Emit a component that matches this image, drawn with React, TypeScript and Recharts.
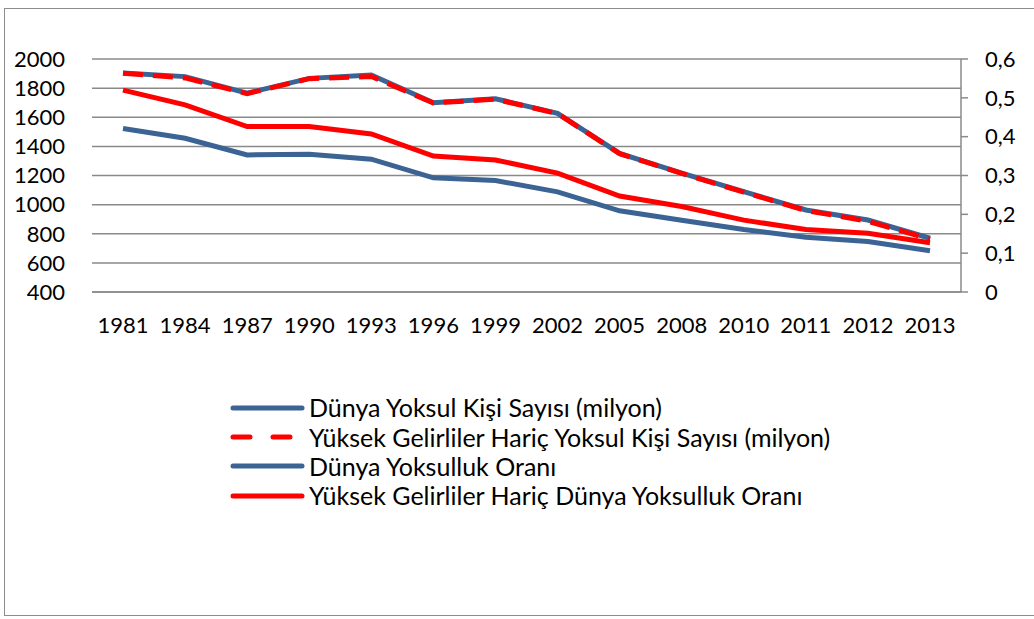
import { LineChart, Line, XAxis, YAxis, CartesianGrid, Legend } from 'recharts';

const years = ['1981', '1984', '1987', '1990', '1993', '1996', '1999', '2002', '2005', '2008', '2010', '2011', '2012', '2013'];
const poorWorld = [1904, 1879, 1766, 1867, 1890, 1700, 1727, 1627, 1352, 1217, 1089, 963, 894, 769];
const poorExHigh = [1902, 1870, 1762, 1865, 1880, 1698, 1724, 1625, 1350, 1214, 1086, 960, 886, 762];
const rateWorld = [0.421, 0.396, 0.353, 0.355, 0.342, 0.294, 0.287, 0.258, 0.209, 0.185, 0.161, 0.141, 0.13, 0.106];
const rateExHigh = [0.52, 0.482, 0.426, 0.426, 0.407, 0.35, 0.34, 0.306, 0.247, 0.22, 0.185, 0.161, 0.151, 0.127];

const leftTicks = [400, 600, 800, 1000, 1200, 1400, 1600, 1800, 2000];
const rightTicks = [0, 0.1, 0.2, 0.3, 0.4, 0.5, 0.6];

const BLUE = '#3B6394';
const RED = '#FF0000';
const GRID = '#8A8A8A';
const FONT = 'Lato, "Open Sans", sans-serif';

const SERIES = [
  { key: 'poorWorld', name: 'Dünya Yoksul Kişi Sayısı (milyon)', color: BLUE, axis: 'left', dash: undefined },
  { key: 'poorExHigh', name: 'Yüksek Gelirliler Hariç Yoksul Kişi Sayısı (milyon)', color: RED, axis: 'left', dash: '20 10' },
  { key: 'rateWorld', name: 'Dünya Yoksulluk Oranı', color: BLUE, axis: 'right', dash: undefined },
  { key: 'rateExHigh', name: 'Yüksek Gelirliler Hariç Dünya Yoksulluk Oranı', color: RED, axis: 'right', dash: undefined },
];

const data = years.map((y, i) => ({
  year: y,
  poorWorld: poorWorld[i],
  poorExHigh: poorExHigh[i],
  rateWorld: rateWorld[i],
  rateExHigh: rateExHigh[i],
}));

const fmtRate = (v: number) => (v === 0 ? '0' : v.toFixed(1).replace('.', ','));

// legend keeps the series order (recharts would sort it by name)
function renderLegend(props: any) {
  const items = props.payload || [];
  return (
    <div style={{ fontFamily: FONT, fontSize: 25, color: '#000', lineHeight: 1 }}>
      {SERIES.map(s => {
        const entry = items.find((e: any) => e.dataKey === s.key);
        if (!entry) return null;
        return (
          <div key={s.key} style={{ display: 'flex', alignItems: 'center', height: 29.4, whiteSpace: 'nowrap' }}>
            <svg width={75} height={10} style={{ display: 'block' }}>
              <line
                x1={3}
                y1={5}
                x2={72}
                y2={5}
                stroke={entry.color}
                strokeWidth={5}
                strokeLinecap="round"
                strokeDasharray={s.dash ? '17 23' : undefined}
              />
            </svg>
            <span style={{ marginLeft: 4 }}>{entry.value}</span>
          </div>
        );
      })}
    </div>
  );
}

export default function App() {
  return (
    <div style={{ position: 'absolute', left: 0, top: 0, width: 1034, height: 619, background: '#fff', overflow: 'hidden' }}>
      <div
        style={{
          position: 'absolute',
          left: 4,
          top: 8,
          width: 1040,
          height: 608,
          border: '1.5px solid #8C8C8C',
          boxSizing: 'border-box',
        }}
      />
      <div style={{ position: 'absolute', left: 0, top: 0 }}>
        <LineChart width={1034} height={619} data={data} margin={{ top: 59, right: 0, left: 0, bottom: 287 }}>
          <CartesianGrid vertical={false} stroke={GRID} strokeWidth={1.5} yAxisId="left" />
          <XAxis
            dataKey="year"
            interval={0}
            padding={{ left: 31, right: 31 }}
            height={40}
            tickLine={false}
            axisLine={{ stroke: GRID, strokeWidth: 1.5 }}
            tickSize={6}
            tickMargin={19}
            tick={{ fill: '#000', fontSize: 22, fontFamily: FONT }}
          />
          <YAxis
            yAxisId="left"
            width={92}
            domain={[400, 2000]}
            ticks={leftTicks}
            interval={0}
            axisLine={false}
            tickLine={false}
            tickSize={6}
            tickMargin={21}
            tick={{ fill: '#000', fontSize: 22, fontFamily: FONT }}
          />
          <YAxis
            yAxisId="right"
            orientation="right"
            width={73}
            domain={[0, 0.6]}
            ticks={rightTicks}
            interval={0}
            tickFormatter={fmtRate}
            axisLine={{ stroke: GRID, strokeWidth: 1.5 }}
            tickLine={{ stroke: GRID, strokeWidth: 1.5 }}
            tickSize={7}
            tickMargin={17}
            tick={{ fill: '#000', fontSize: 22, fontFamily: FONT }}
          />
          <Legend
            layout="vertical"
            align="center"
            verticalAlign="middle"
            content={renderLegend}
            wrapperStyle={{ left: 230, top: 393, width: 'auto', height: 'auto' }}
          />
          {SERIES.map(s => (
            <Line
              key={s.key}
              yAxisId={s.axis}
              dataKey={s.key}
              name={s.name}
              type="linear"
              stroke={s.color}
              strokeWidth={5}
              strokeDasharray={s.dash}
              dot={false}
              activeDot={false}
              isAnimationActive={false}
            />
          ))}
        </LineChart>
      </div>
    </div>
  );
}
